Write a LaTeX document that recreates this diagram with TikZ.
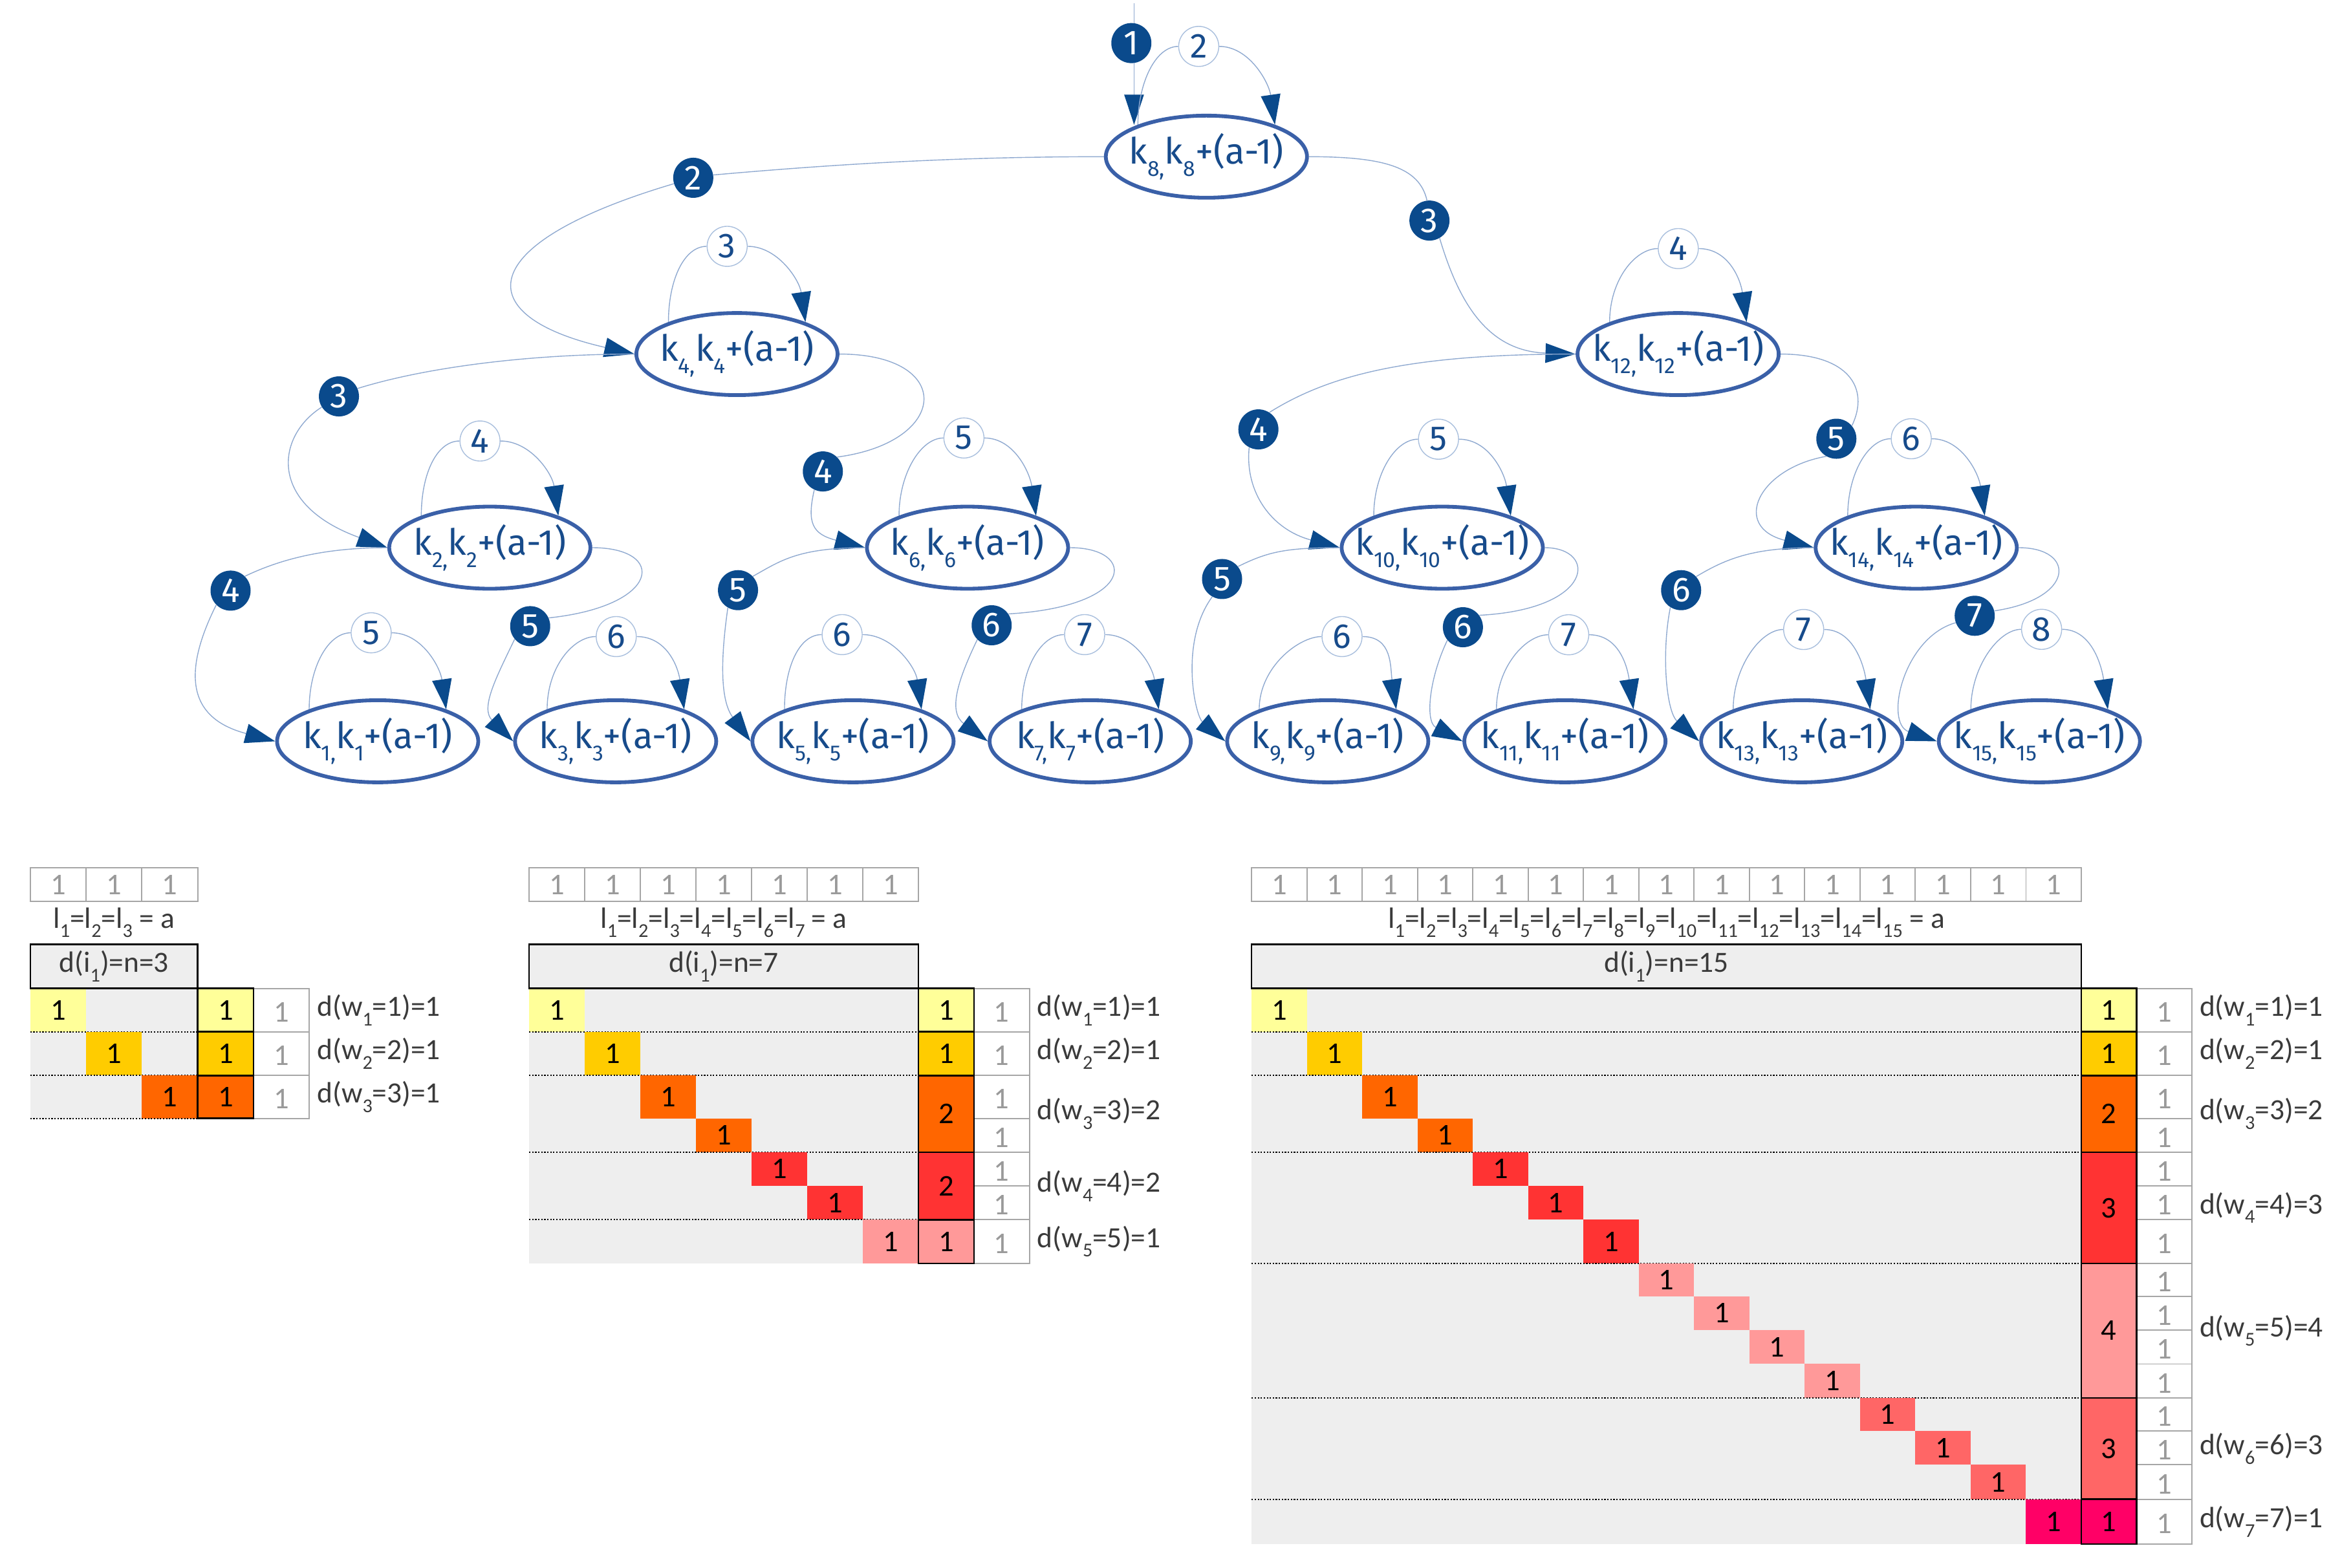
\documentclass[tikz,border=0pt]{standalone}
\usepackage{fontspec}
\setmainfont{Fira Sans}
\newfontfamily\tabfont{Carlito}
\usetikzlibrary{arrows.meta,shapes.geometric}
\definecolor{navy}{HTML}{0A4A8C}
\definecolor{ellblue}{HTML}{3A60A8}
\definecolor{lineblue}{HTML}{8FA9D0}
\definecolor{circbd}{HTML}{A9BFDD}
\definecolor{knavy}{HTML}{174B8B}
\definecolor{cellgray}{HTML}{EEEEEE}
\definecolor{gridgray}{HTML}{A6A6A6}
\definecolor{onegray}{HTML}{9A9A9A}
\definecolor{labgray}{HTML}{3A3A3A}
\definecolor{cyel}{HTML}{FFFF99}
\definecolor{cgold}{HTML}{FFCC00}
\definecolor{cora}{HTML}{FF6600}
\definecolor{cred}{HTML}{FF3333}
\definecolor{cpink}{HTML}{FF9999}
\definecolor{csal}{HTML}{FF6666}
\definecolor{cmag}{HTML}{FF0066}
\newcommand\ksub[1]{\raisebox{-0.34em}{\fontsize{14.5}{14.5}\selectfont #1}}
\newcommand\tsub[1]{\raisebox{-0.32em}{\fontsize{13}{13}\selectfont #1}}
\newcommand\kl[1]{\makebox[0pt]{k\ksub{#1,}k\ksub{#1}+(a-1)}}
\pgfdeclarelayer{bg}
\pgfsetlayers{bg,main}
\def\Yl{{656,684.8,713.8,742.3,764.8,787,809.5,838.6,860.3,882.7,905.3,927.8,949.7,972.2,995.1,1024.8}}
\newcommand\tablepart[6]{%
  \pgfmathsetmacro\xe{#2+#4*#3}%
  \pgfmathsetmacro\yb{\Yl[#4]}%
  \foreach \cc in {1,...,#4}{%
    \pgfmathsetmacro\xa{#2+(\cc-1)*#3}%
    \draw[gridbd] (\xa,575.8) rectangle ++(#3,22.5);
    \node[topone] (#1-t\cc) at ({\xa+#3/2},587.3) {1};
  }%
  \node[labtext] (#1-lab) at ({(#2+\xe)/2},612.4) {#5};
  \fill[cellgray] (#2,656) rectangle (\xe,\yb);
  \foreach \ga/\gb/\gv/\gc/\gk in {#6}{%
    \pgfmathtruncatemacro\gai{\ga-1}%
    \pgfmathsetmacro\ys{\Yl[\gai]}%
    \pgfmathsetmacro\ye{\Yl[\gb]}%
    \foreach \rr in {\ga,...,\gb}{%
      \pgfmathtruncatemacro\rri{\rr-1}%
      \pgfmathsetmacro\ytop{\Yl[\rri]}%
      \pgfmathsetmacro\ybot{\Yl[\rr]}%
      \pgfmathsetmacro\xa{#2+(\rr-1)*#3}%
      \fill[\gc] (\xa,\ytop) rectangle ({\xa+#3},\ybot);
      \node[cellnum] (#1-d\rr) at ({\xa+#3/2},{(\ytop+\ybot)/2}) {1};
      \draw[gridbd,fill=white] ({\xe+#3},\ytop) rectangle ({\xe+2*#3},\ybot);
      \node[topone,yshift=-1.5pt] (#1-u\rr) at ({\xe+1.5*#3},{(\ytop+\ybot)/2}) {1};
    }%
    \ifnum\gb<#4\relax \draw[dotrule] (#2,\ye) -- (\xe,\ye);\fi
    \draw[blackbd,fill=\gc] (\xe,\ys) rectangle ({\xe+#3},\ye);
    \node[cellnum] (#1-w\gk) at ({\xe+#3/2},{(\ys+\ye)/2}) {\gv};
    \node[labtext,anchor=west] (#1-l\gk) at ({\xe+2*#3+5},{(\ys+\ye)/2}) {d(w\tsub{\gk}=\gk)=\gv};
  }%
  \draw[blackbd,fill=cellgray] (#2,626.8) rectangle (\xe,656);
  \node[labtext] (#1-hd) at ({(#2+\xe)/2},641.4) {d(i\tsub{1})=n=#4};
}
\begin{document}
\begin{tikzpicture}[x=1pt,y=-1pt,
  kn/.style={ellipse,draw=ellblue,line width=2.5pt,minimum width=133.5pt,minimum height=54.5pt,inner sep=0pt,text=knavy,font=\fontsize{24}{28}\selectfont},
  lp/.style={circle,draw=circbd,line width=0.6pt,fill=white,minimum size=26.6pt,inner sep=0pt,text=knavy,font=\fontsize{23}{26}\selectfont},
  ep/.style={circle,fill=navy,minimum size=26.6pt,inner sep=0pt,text=white,font=\fontsize{23}{26}\selectfont},
  cn/.style={draw=lineblue,line width=0.6pt},
  arrowed/.style={-{Triangle[length=20pt,width=13pt,color=navy]}},
  gridbd/.style={draw=gridgray,line width=0.8pt},
  blackbd/.style={draw=black,line width=1.1pt},
  dotrule/.style={draw=black,line width=0.9pt,dash pattern=on 0.9pt off 1.1pt},
  topone/.style={inner sep=0pt,text=onegray,font=\tabfont\fontsize{20}{22}\selectfont},
  cellnum/.style={inner sep=0pt,text=black,font=\tabfont\fontsize{20}{22}\selectfont},
  labtext/.style={inner sep=0pt,text=labgray,font=\tabfont\fontsize{19.5}{22}\selectfont},
]
\useasboundingbox (0,0) rectangle (1560,1040.3);
% ---------- tree nodes ----------
\node[kn] (k8) at (800.5,104) {\kl{8}};
\node[kn] (k4) at (489,235) {\kl{4}};
\node[kn] (k12) at (1113.5,235) {\kl{12}};
\node[kn] (k2) at (325,363.5) {\kl{2}};
\node[kn] (k6) at (642,363.5) {\kl{6}};
\node[kn] (k10) at (957,363.5) {\kl{10}};
\node[kn] (k14) at (1271.5,363.5) {\kl{14}};
\node[kn] (k1) at (250.6,492) {\kl{1}};
\node[kn] (k3) at (408.5,492) {\kl{3}};
\node[kn] (k5) at (566,492) {\kl{5}};
\node[kn] (k7) at (723.4,492) {\kl{7}};
\node[kn] (k9) at (881,492) {\kl{9}};
\node[kn] (k11) at (1038.4,492) {\kl{11}};
\node[kn] (k13) at (1195.5,492) {\kl{13}};
\node[kn] (k15) at (1353.2,492) {\kl{15}};
% loop labels
\node[lp] (L8) at (795.4,30.8) {2};
\node[lp] (L4) at (482.5,163.5) {3};
\node[lp] (L12) at (1113.6,165) {4};
\node[lp] (L2) at (318.5,292.7) {4};
\node[lp] (L6) at (639.6,290.7) {5};
\node[lp] (L10) at (954.5,291.5) {5};
\node[lp] (L14) at (1268.2,291.2) {6};
\node[lp] (L1) at (246.3,420) {5};
\node[lp] (L3) at (408.9,422.5) {6};
\node[lp] (L5) at (558.8,421.2) {6};
\node[lp] (L7) at (719.7,421.2) {7};
\node[lp] (L9) at (890.5,422.5) {6};
\node[lp] (L11) at (1040.9,421.3) {7};
\node[lp] (L13) at (1196.8,417.8) {7};
\node[lp] (L15) at (1354.7,417.7) {8};
% edge labels
\node[ep] (E8) at (750.7,28.6) {1};
\node[ep] (E4) at (460,118) {2};
\node[ep] (E12) at (948.5,146.4) {3};
\node[ep] (E2) at (224.9,263.1) {3};
\node[ep] (E6) at (546,312.9) {4};
\node[ep] (E10) at (835,285) {4};
\node[ep] (E14) at (1218.5,291.2) {5};
\node[ep] (E1) at (153,392) {4};
\node[ep] (E3) at (351.8,415.6) {5};
\node[ep] (E5) at (489.7,391.7) {5};
\node[ep] (E7) at (658,415) {6};
\node[ep] (E9) at (810.9,384.3) {5};
\node[ep] (E11) at (970.7,416.3) {6};
\node[ep] (E13) at (1115.5,391.7) {6};
\node[ep] (E15) at (1310.3,408.7) {7};
\coordinate (topin) at (752.5,2);
% ---------- connectors ----------
\begin{pgfonlayer}{bg}
\draw[cn,arrowed] (topin) -- (topin |- k8.155);
\foreach \n in {8,4,12,2,6,10,14,1,3,5,7,9,11,13,15}
  \draw[cn,arrowed] (k\n.155) .. controls +(0,-28) and +(-15,0) .. (L\n.west)
     (L\n.east) .. controls +(20,0) and +(-4,-28) .. (k\n.25);
\draw[cn,arrowed] (k8.west) .. controls +(-90,0) and +(90,-8) .. (E4.8)
   (E4.197) .. controls +(-135,40) and +(-110,-25) .. (k4.west);
\draw[cn,arrowed] (k8.east) .. controls +(50,0) and +(-5,-22) .. (E12.97)
   (E12.300) .. controls +(12,40) and +(-60,-2) .. (k12.west);
\draw[cn,arrowed] (k4.west) .. controls +(-70,0) and +(45,-14) .. (E2.23)
   (E2.212) .. controls +(-30,19) and +(-80,-29) .. (k2.west);
\draw[cn,arrowed] (k4.east) .. controls +(76.5,0) and +(75,-10) .. (E6.45)
   (E6.245) .. controls +(-5,22) and +(-35,-9) .. (k6.west);
\draw[cn,arrowed] (k12.west) .. controls +(-110,0) and +(40,-25) .. (E10.57)
   (E10.243) .. controls +(-3,30) and +(-45,-12) .. (k10.west);
\draw[cn,arrowed] (k12.east) .. controls +(45,0) and +(12,-25) .. (E14.40)
   (E14.240) .. controls +(-45,8) and +(-55,-14) .. (k14.west);
\draw[cn,arrowed] (k2.west) .. controls +(-40,0) and +(25,-12) .. (E1.45)
   (E1.225) .. controls +(-30,60) and +(-45,-12) .. (k1.west);
\draw[cn,arrowed] (k2.east) .. controls +(49.5,0) and +(75,-8) .. (E3.24)
   (E3.220) .. controls +(-12,25) and +(-22,-22) .. (k3.west);
\draw[cn,arrowed] (k6.west) .. controls +(-45,0) and +(18,-10) .. (E5.43)
   (E5.240) .. controls +(-5,35) and +(-20,-27) .. (k5.west);
\draw[cn,arrowed] (k6.east) .. controls +(44.5,0) and +(85,-5) .. (E7.34)
   (E7.225) .. controls +(-12,25) and +(-27,-20) .. (k7.west);
\draw[cn,arrowed] (k10.west) .. controls +(-35,0) and +(20,-10) .. (E9.38)
   (E9.241) .. controls +(-22,30) and +(-20,-17) .. (k9.west);
\draw[cn,arrowed] (k10.east) .. controls +(35,0) and +(77,-4) .. (E11.36)
   (E11.220) .. controls +(-12,25) and +(-25,-13) .. (k11.west);
\draw[cn,arrowed] (k14.west) .. controls +(-40,0) and +(20,-12) .. (E13.42)
   (E13.238) .. controls +(-6,30) and +(-22,-20) .. (k13.west);
\draw[cn,arrowed] (k14.east) .. controls +(38,0) and +(54,-8) .. (E15.14)
   (E15.200) .. controls +(-35,10) and +(-35,-12) .. (k15.west);
\end{pgfonlayer}
% ---------- tables ----------
\tablepart{A}{20.1}{37.03}{3}{l\tsub{1}=l\tsub{2}=l\tsub{3} = a}{1/1/1/cyel/1,2/2/1/cgold/2,3/3/1/cora/3}
\draw[dotrule] (20.1,742.3) -- (131.2,742.3);
\tablepart{B}{351.1}{36.89}{7}{l\tsub{1}=l\tsub{2}=l\tsub{3}=l\tsub{4}=l\tsub{5}=l\tsub{6}=l\tsub{7} = a}{1/1/1/cyel/1,2/2/1/cgold/2,3/4/2/cora/3,5/6/2/cred/4,7/7/1/cpink/5}
\tablepart{C}{830.5}{36.7}{15}{l\tsub{1}=l\tsub{2}=l\tsub{3}=l\tsub{4}=l\tsub{5}=l\tsub{6}=l\tsub{7}=l\tsub{8}=l\tsub{9}=l\tsub{10}=l\tsub{11}=l\tsub{12}=l\tsub{13}=l\tsub{14}=l\tsub{15} = a}{1/1/1/cyel/1,2/2/1/cgold/2,3/4/2/cora/3,5/7/3/cred/4,8/11/4/cpink/5,12/14/3/csal/6,15/15/1/cmag/7}
\end{tikzpicture}
\end{document}
